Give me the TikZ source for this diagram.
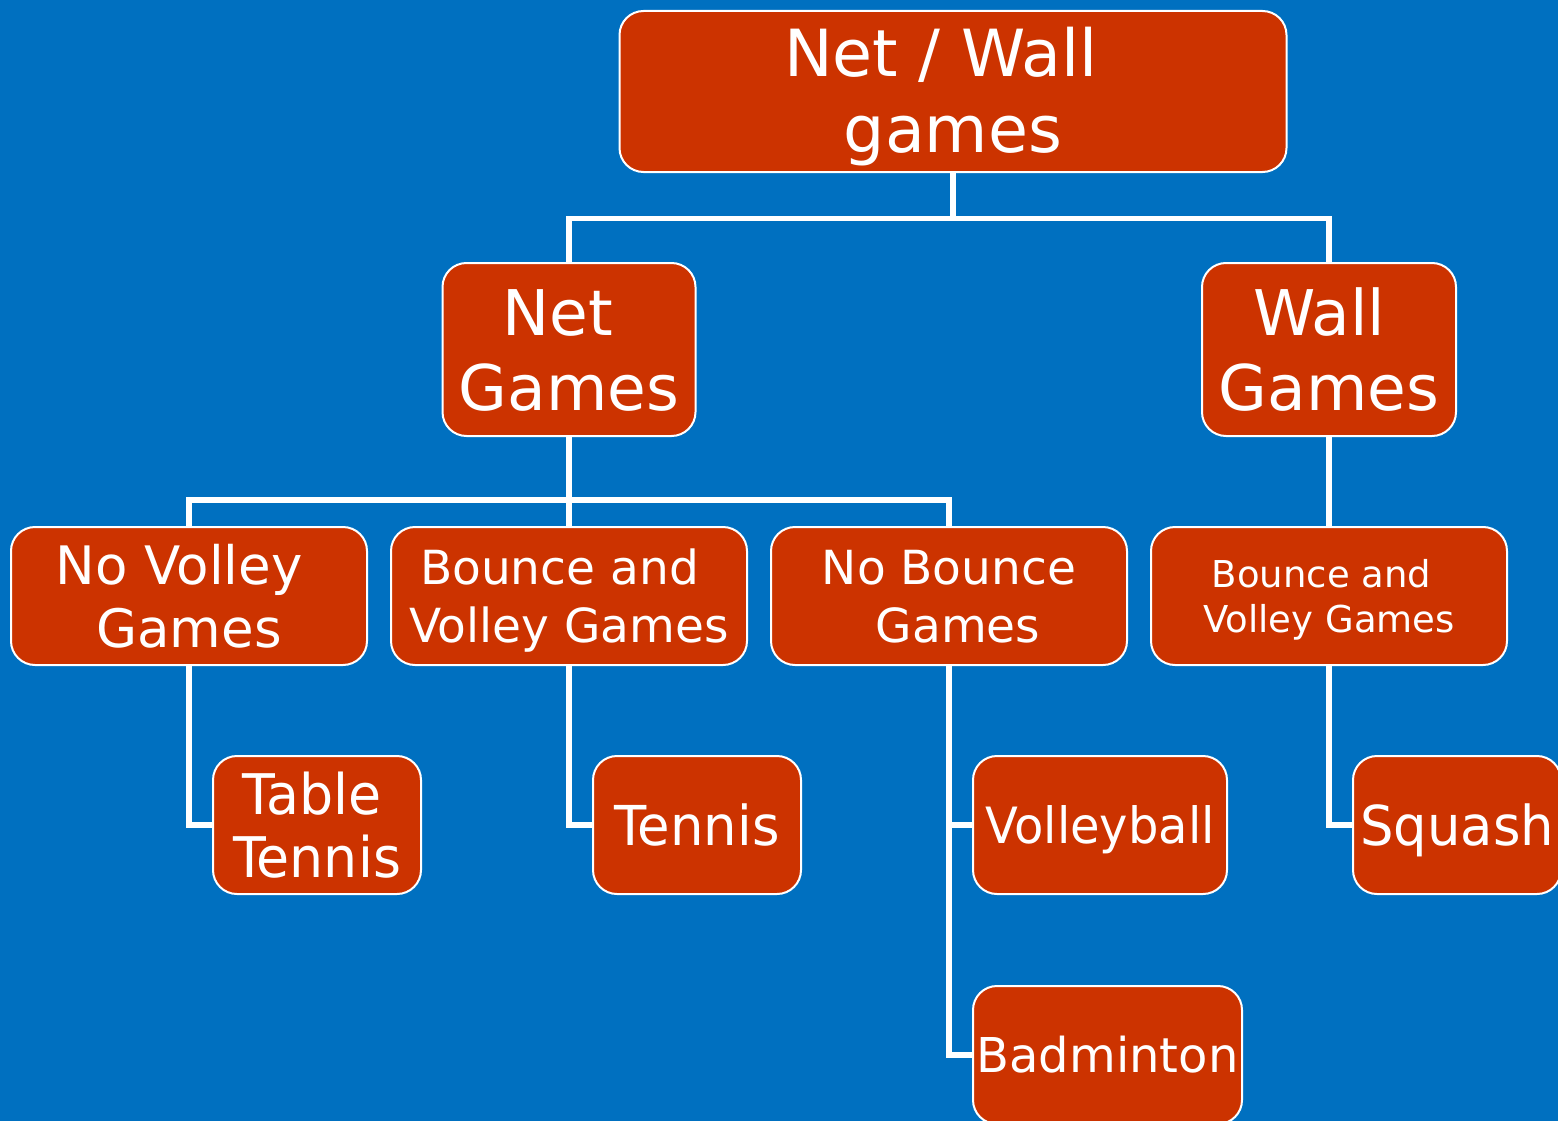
\documentclass[tikz,border=0pt]{standalone}
\usepackage{fontspec}
\setmainfont{DejaVu Sans}
\newfontfamily\cf[FakeStretch=0.96]{DejaVu Sans}
\definecolor{bgblue}{HTML}{0070C0}
\definecolor{boxred}{HTML}{CC3300}
\newcommand\FR[2]{\fontsize{#1}{#2}\selectfont}
\newcommand\FC[2]{\cf\fontsize{#1}{#2}\selectfont}
\tikzset{
  box/.style={draw=white, line width=2pt, fill=boxred, rounded corners=24pt,
    text=white, inner sep=0pt, align=center, text depth=0pt},
  conn/.style={draw=white, line width=5.5pt},
}
\begin{document}
\begin{tikzpicture}[x=1pt,y=-1pt]
\useasboundingbox (0,0) rectangle (1558,1121);
\fill[bgblue] (0,0) rectangle (1558,1121);
\clip (0,0) rectangle (1558,1121);

\node[box, minimum width=667pt, minimum height=161pt, font=\FR{65}{76},
  text height=123pt] (top) at (953,91.5) {Net / Wall\kern24pt\\games};
\node[box, minimum width=253pt, minimum height=173pt, font=\FR{63}{75},
  text height=121pt] (net) at (569,349.5) {Net\kern22pt\\Games};
\node[box, minimum width=254pt, minimum height=173pt, font=\FR{63}{75},
  text height=121pt] (wall) at (1329,349.5) {Wall\kern20pt\\Games};

\node[box, minimum width=356pt, minimum height=138pt, font=\FR{53}{63},
  text height=102pt] (nv) at (189,596) {No Volley\kern20pt\\Games};
\node[box, minimum width=356pt, minimum height=138pt, font=\FR{47}{58},
  text height=92pt] (bv) at (569,596) {Bounce and\kern19pt\\Volley Games};
\node[box, minimum width=356pt, minimum height=138pt, font=\FR{47}{58},
  text height=92pt] (nb) at (949,596) {No Bounce\\\kern18pt Games};
\node[box, minimum width=356pt, minimum height=138pt, font=\FR{37}{45},
  text height=72pt] (bv2) at (1329,596) {Bounce and\kern15pt\\Volley Games};

\node[box, minimum width=208pt, minimum height=138pt, font=\FC{56}{63},
  text height=104pt] (tt) at (317,825) {Table\kern10pt\\Tennis};
\node[box, minimum width=208pt, minimum height=138pt, font=\FC{55}{60},
  text height=40pt] (tn) at (697,825) {Tennis};
\node[box, minimum width=254pt, minimum height=138pt, font=\FC{50}{56},
  text height=36.5pt] (vb) at (1100,825) {Volleyball};
\node[box, minimum width=208pt, minimum height=138pt, font=\FC{55}{60},
  text height=40pt] (sq) at (1457,825) {Squash};
\node[box, minimum width=269pt, minimum height=138pt, font=\FR{48}{54},
  text height=35pt] (bd) at (1107.5,1055) {Badminton};

\draw[conn] (top.south) -- ++(0,45.5) coordinate (j1) -| (net.north);
\draw[conn] (j1) -| (wall.north);
\draw[conn] (net.south) -- ++(0,63) coordinate (j2) -| (nv.north);
\draw[conn] (j2) -| (nb.north);
\draw[conn] (net.south) -- (bv.north);
\draw[conn] (wall.south) -- (bv2.north);
\draw[conn] (nv.south) |- (tt.west);
\draw[conn] (bv.south) |- (tn.west);
\draw[conn] (nb.south) |- (vb.west);
\draw[conn] (nb.south) |- (bd.west);
\draw[conn] (bv2.south) |- (sq.west);
\end{tikzpicture}
\end{document}
